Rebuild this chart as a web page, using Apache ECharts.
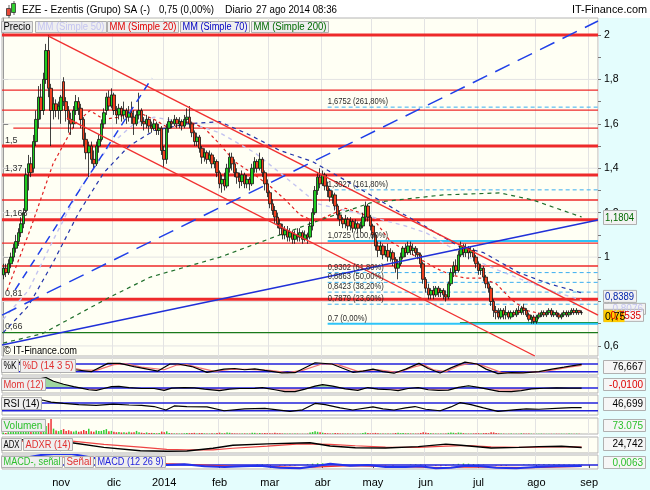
<!DOCTYPE html>
<html><head><meta charset="utf-8">
<script src="https://cdn.jsdelivr.net/npm/echarts@6/dist/echarts.min.js"></script>
<style>html,body{margin:0;padding:0;background:#fff}#c{width:650px;height:490px}</style>
</head><body><div id="c"></div>
<script>
// ---------------- DATA ----------------
const holidays = ['2013-12-25','2013-12-26','2014-01-01','2014-04-18','2014-04-21','2014-05-01'];
const firstDay = '2013-10-01', lastAxisDay = '2014-09-04';
const monthLabels = {1:'2014',2:'feb',3:'mar',4:'abr',5:'may',6:'jun',7:'jul',8:'ago',9:'sep',10:'oct',11:'nov',12:'dic'};
const priceTicks = [0.6,0.8,1.0,1.2,1.4,1.6,1.8,2.0];
const priceMinorTicks = [0.6,0.7,0.8,0.9,1.0,1.1,1.2,1.3,1.4,1.5,1.6,1.7,1.8,1.9,2.0];

// daily candles [open, close, low, high]
const ohlc = [
[0.92,0.95,0.90,0.97],[0.95,0.93,0.91,0.97],[0.93,0.97,0.92,0.99],[0.97,1.00,0.95,1.02],[1.00,1.04,0.98,1.06],
[1.04,1.07,1.02,1.10],[1.07,1.11,1.05,1.13],[1.11,1.15,1.09,1.18],[1.15,1.20,1.13,1.22],[1.21,1.37,1.20,1.40],
[1.38,1.42,1.30,1.46],[1.42,1.38,1.36,1.45],[1.40,1.52,1.38,1.55],[1.52,1.62,1.50,1.66],[1.62,1.72,1.58,1.77],
[1.72,1.66,1.62,1.78],[1.66,1.80,1.64,1.83],[1.80,1.93,1.78,1.96],[1.93,1.76,1.72,2.00],[1.76,1.66,1.50,1.78],
[1.66,1.69,1.62,1.72],[1.69,1.66,1.63,1.71],[1.66,1.68,1.62,1.70],[1.66,1.72,1.60,1.73],[1.79,1.70,1.68,1.81],
[1.70,1.66,1.61,1.72],[1.66,1.62,1.56,1.68],[1.62,1.60,1.55,1.65],[1.60,1.66,1.58,1.68],[1.66,1.70,1.64,1.73],
[1.70,1.67,1.64,1.72],[1.67,1.62,1.58,1.69],[1.62,1.53,1.50,1.63],[1.53,1.47,1.44,1.56],[1.47,1.50,1.36,1.52],
[1.50,1.44,1.42,1.52],[1.44,1.42,1.40,1.48],[1.42,1.50,1.41,1.52],[1.50,1.53,1.47,1.55],[1.53,1.60,1.52,1.62],
[1.60,1.65,1.58,1.67],[1.66,1.72,1.64,1.74],[1.72,1.68,1.66,1.75],[1.68,1.73,1.67,1.76],[1.73,1.66,1.64,1.74],
[1.66,1.64,1.60,1.68],[1.64,1.67,1.62,1.69],[1.67,1.64,1.61,1.68],[1.64,1.66,1.62,1.70],[1.66,1.63,1.60,1.67],
[1.63,1.65,1.61,1.68],[1.65,1.63,1.60,1.70],[1.63,1.60,1.55,1.66],[1.60,1.64,1.59,1.66],[1.64,1.66,1.62,1.74],
[1.66,1.61,1.59,1.67],[1.61,1.60,1.57,1.63],[1.60,1.62,1.58,1.64],[1.62,1.59,1.56,1.63],[1.59,1.58,1.56,1.61],
[1.58,1.60,1.57,1.62],[1.60,1.57,1.55,1.61],[1.57,1.58,1.55,1.60],[1.58,1.48,1.46,1.59],[1.48,1.44,1.40,1.50],
[1.44,1.58,1.42,1.60],[1.58,1.61,1.56,1.63],[1.61,1.60,1.58,1.62],[1.60,1.62,1.59,1.64],[1.62,1.60,1.58,1.63],
[1.60,1.61,1.58,1.63],[1.61,1.59,1.57,1.62],[1.59,1.62,1.58,1.64],[1.62,1.63,1.60,1.67],[1.63,1.60,1.58,1.68],
[1.60,1.56,1.54,1.61],[1.56,1.52,1.50,1.57],[1.52,1.54,1.50,1.56],[1.54,1.49,1.47,1.55],[1.49,1.45,1.42,1.50],
[1.45,1.47,1.43,1.49],[1.47,1.44,1.42,1.48],[1.44,1.46,1.43,1.48],[1.46,1.42,1.40,1.47],[1.42,1.43,1.40,1.45],
[1.43,1.38,1.36,1.44],[1.38,1.33,1.31,1.39],[1.33,1.35,1.29,1.37],[1.35,1.32,1.30,1.38],[1.32,1.40,1.31,1.42],
[1.40,1.45,1.38,1.47],[1.45,1.42,1.39,1.47],[1.42,1.38,1.36,1.44],[1.38,1.36,1.33,1.40],[1.36,1.34,1.31,1.38],
[1.34,1.37,1.32,1.39],[1.37,1.33,1.31,1.38],[1.33,1.35,1.31,1.37],[1.35,1.33,1.30,1.36],[1.33,1.40,1.32,1.42],
[1.40,1.43,1.38,1.45],[1.43,1.40,1.38,1.44],[1.40,1.44,1.39,1.47],[1.44,1.38,1.36,1.45],[1.38,1.33,1.30,1.39],
[1.33,1.29,1.27,1.35],[1.29,1.24,1.22,1.30],[1.24,1.21,1.19,1.26],[1.21,1.18,1.15,1.23],[1.18,1.15,1.13,1.20],
[1.15,1.13,1.10,1.17],[1.13,1.10,1.08,1.15],[1.10,1.12,1.08,1.14],[1.12,1.09,1.07,1.14],[1.09,1.11,1.07,1.13],
[1.11,1.08,1.06,1.12],[1.08,1.10,1.06,1.12],[1.10,1.09,1.07,1.13],[1.09,1.11,1.07,1.13],[1.11,1.08,1.06,1.12],
[1.08,1.10,1.07,1.12],[1.10,1.09,1.06,1.11],[1.09,1.14,1.08,1.16],[1.14,1.20,1.12,1.22],[1.20,1.30,1.19,1.32],
[1.30,1.36,1.28,1.38],[1.36,1.33,1.31,1.40],[1.33,1.37,1.32,1.39],[1.37,1.32,1.30,1.38],[1.32,1.30,1.27,1.34],
[1.30,1.27,1.25,1.31],[1.27,1.28,1.24,1.30],[1.28,1.23,1.21,1.29],[1.23,1.19,1.17,1.24],[1.19,1.17,1.14,1.21],
[1.17,1.15,1.13,1.18],[1.15,1.17,1.13,1.19],[1.17,1.14,1.12,1.18],[1.14,1.16,1.12,1.18],[1.16,1.13,1.11,1.17],
[1.13,1.15,1.12,1.17],[1.15,1.13,1.11,1.16],[1.13,1.14,1.11,1.16],[1.14,1.18,1.13,1.20],[1.18,1.23,1.16,1.25],
[1.23,1.18,1.16,1.24],[1.18,1.14,1.12,1.19],[1.14,1.10,1.08,1.15],[1.10,1.05,1.03,1.11],[1.05,1.03,1.00,1.07],
[1.03,1.05,1.01,1.07],[1.05,1.01,0.99,1.06],[1.01,1.03,1.00,1.05],[1.03,1.00,0.98,1.06],[1.00,1.02,0.98,1.04],
[1.02,0.99,0.96,1.03],[0.99,0.95,0.93,1.00],[0.95,0.97,0.90,0.99],[0.97,1.00,0.96,1.02],[1.00,1.04,0.99,1.05],
[1.04,1.02,1.00,1.06],[1.02,1.05,1.01,1.07],[1.05,1.03,1.01,1.07],[1.03,1.04,1.01,1.06],[1.04,1.02,1.00,1.05],
[1.02,1.01,0.99,1.04],[1.01,0.97,0.95,1.02],[0.97,0.90,0.88,0.98],[0.90,0.86,0.84,0.91],[0.86,0.83,0.81,0.88],
[0.83,0.85,0.81,0.86],[0.85,0.83,0.81,0.87],[0.83,0.86,0.82,0.87],[0.86,0.84,0.82,0.87],[0.84,0.85,0.82,0.86],
[0.85,0.83,0.81,0.86],[0.83,0.82,0.80,0.85],[0.82,0.88,0.81,0.89],[0.88,0.93,0.87,0.95],[0.93,0.96,0.91,0.98],
[0.96,0.94,0.92,0.99],[0.94,1.01,0.93,1.03],[1.01,1.05,1.00,1.07],[1.05,1.02,1.00,1.06],[1.02,1.04,1.00,1.06],
[1.04,1.02,0.99,1.05],[1.02,1.03,1.00,1.05],[1.03,1.00,0.98,1.04],[1.00,0.97,0.95,1.01],[0.97,0.94,0.92,0.98],
[0.94,0.95,0.92,0.97],[0.95,0.91,0.89,0.96],[0.91,0.88,0.86,0.92],[0.88,0.86,0.84,0.89],[0.86,0.80,0.78,0.87],
[0.80,0.76,0.73,0.81],[0.76,0.75,0.72,0.78],[0.75,0.73,0.72,0.77],[0.73,0.76,0.72,0.77],[0.76,0.74,0.72,0.77],
[0.74,0.75,0.72,0.78],[0.75,0.73,0.72,0.76],[0.73,0.75,0.72,0.76],[0.75,0.74,0.73,0.76],[0.74,0.76,0.73,0.77],
[0.76,0.75,0.74,0.78],[0.75,0.77,0.74,0.78],[0.77,0.76,0.74,0.79],[0.76,0.74,0.73,0.77],[0.74,0.72,0.71,0.75],
[0.72,0.73,0.70,0.74],[0.73,0.71,0.70,0.74],[0.71,0.73,0.70,0.74],[0.73,0.74,0.72,0.75],[0.74,0.75,0.73,0.76],
[0.75,0.74,0.73,0.76],[0.74,0.75,0.73,0.76],[0.75,0.76,0.74,0.77],[0.76,0.74,0.73,0.77],[0.74,0.75,0.73,0.76],
[0.75,0.74,0.73,0.76],[0.74,0.73,0.72,0.75],[0.73,0.74,0.72,0.75],[0.74,0.75,0.73,0.76],[0.75,0.74,0.73,0.76],
[0.74,0.75,0.73,0.76],[0.75,0.76,0.74,0.77],[0.76,0.75,0.74,0.77],[0.75,0.76,0.74,0.77],[0.76,0.75,0.74,0.76],
[0.75,0.75,0.74,0.76]
];

// volume, millions of shares
const volumeM = [
3.1,2.4,4.0,5.2,6.1,4.4,5.0,6.8,7.5,14.0, 9.5,6.2,12.0,13.5,15.2,9.8,14.1,18.0,24.5,34.0,
12.0,8.0,6.5,9.0,11.0,7.0,8.5,6.0,5.5,7.5, 5.0,6.0,9.0,7.0,12.0,6.0,5.0,8.0,6.5,7.0,
9.0,11.0,6.0,7.0,5.0,4.0,4.5,3.5,4.0,3.0, 5.0,3.5,4.0,7.0,4.0,3.0,2.5,3.5,2.0,2.5,
2.0,1.5,2.0,5.5,4.0,6.0,2.5,1.5,1.2,1.4, 1.0,1.2,1.5,2.5,1.8,2.2,2.6,1.3,2.0,2.2,
1.4,1.1,1.0,1.6,1.2,2.5,3.0,1.5,1.7,3.2, 2.8,1.6,1.4,1.2,1.0,1.1,1.3,0.9,1.0,3.0,
2.6,1.2,2.0,1.5,2.4,1.8,1.6,1.3,2.8,1.7, 1.5,1.2,1.0,0.9,1.1,0.8,0.9,1.0,0.8,0.7,
0.8,0.9,3.2,4.5,6.0,5.0,4.2,3.0,2.2,1.6, 1.4,1.2,2.0,1.8,1.4,1.1,0.9,1.0,0.8,0.9,
0.8,0.7,0.9,2.0,3.5,2.4,1.6,1.8,2.5,1.5, 1.1,1.2,1.0,1.3,0.9,1.2,2.2,2.6,1.8,2.0,
1.4,1.5,1.1,0.9,1.0,1.2,2.4,4.0,3.1,2.2, 1.6,1.2,1.1,0.9,1.0,0.8,1.2,2.6,3.2,2.8,
1.9,3.4,3.0,1.8,1.2,1.0,1.1,1.3,1.6,1.8, 1.2,1.9,2.1,1.6,4.2,3.6,2.0,1.4,1.0,0.9,
0.8,0.7,0.9,0.6,0.8,0.7,1.5,1.2,0.9,1.3, 0.8,0.7,0.6,0.7,0.9,0.6,0.5,0.7,0.6,0.8,
0.7,0.6,0.8,0.5,0.6,0.9,0.7,0.6,0.8,0.7,0.073075
];

// moving averages: [day index, value]
const ma20 = [[1.5,0.85],[10.6,1.12],[19.8,1.42],[28.5,1.60],[34.5,1.66],[40,1.62],[46,1.63],[52,1.66],[60,1.62],[66,1.58],[74,1.61],[80,1.58],[86,1.51],[92,1.43],[100,1.37],[106,1.32],[112,1.26],[118,1.19],[124,1.16],[130,1.19],[136,1.22],[142,1.20],[148,1.16],[154,1.07],[160,1.03],[166,0.99],[172,0.95],[178,0.92],[184,0.905],[190,0.905],[196,0.88],[202,0.81],[208,0.76],[214,0.745],[222,0.745],[230,0.7535]];
const ma50 = [[0,0.72],[10,0.85],[20,1.08],[30,1.30],[42,1.50],[52,1.60],[60,1.63],[75,1.60],[86,1.56],[100,1.47],[110,1.38],[125,1.24],[140,1.20],[150,1.17],[160,1.14],[168,1.11],[177,1.05],[185,1.00],[197,0.94],[206,0.90],[220,0.84],[230,0.8076]];
const ma70 = [[0,0.66],[10,0.78],[20,0.98],[30,1.20],[40,1.38],[50,1.50],[60,1.57],[73,1.60],[86,1.61],[98,1.55],[110,1.48],[123,1.43],[140,1.32],[158,1.20],[166,1.15],[181,1.05],[191,1.02],[205,0.93],[217,0.88],[230,0.8389]];
const ma200 = [[0,0.613],[15.5,0.655],[42.4,0.82],[58.5,0.91],[86.2,1.00],[126,1.167],[146,1.244],[175,1.28],[197.5,1.289],[210.6,1.257],[230,1.1804]];

// drawn levels
const redThick = [2.0,1.5,1.37,1.168,0.81];
const redThin = [1.752,1.662,1.581,1.257,1.063,0.96];
const redThinStart = [-0.5,-0.5,4,-0.5,-0.5,-0.5];
const levelLabels = [['1,5',1.5],['1,37',1.37],['1,168',1.168],['0,81',0.81],['0,66',0.66]];
const greenLevel = 0.66;
const supportLine = [[181.6,0.705],[236.5,0.705]];
const fibLevels = [0.7,0.7879,0.8423,0.8863,0.9302,1.0725,1.3027,1.6752];
const fibPct = ['0,00%','23,60%','38,20%','50,00%','61,80%','100,00%','161,80%','261,80%'];
const fibStart = 129;
const channelUpper = [[17.8,1.9955],[236.5,0.739]];
const channelLower = [[25.3,1.626],[211.4,0.5547]];
const trendBlue = [[-0.5,0.604],[236.5,1.167]];
const trendBlueDash = [[-0.5,0.739],[236.5,2.063]];
const fanBlueDash = [[4.7,0.852],[59.1,1.806]];

// indicators: [day index, value]
const stochK = [[0,92],[8,95],[12,80],[17,96],[19,70],[23,55],[28.5,35],[35,20],[41.6,85],[46.4,85],[52,60],[61.5,25],[66.3,80],[69.5,80],[75,60],[81,15],[87.8,40],[92,45],[96,35],[100,42],[104,30],[110.8,10],[116,12],[124,90],[130.7,80],[139,15],[143,25],[147,40],[151,20],[155.4,8],[160,40],[165.3,85],[169,45],[173.7,10],[178,50],[183.6,95],[188.4,80],[192,40],[196.7,5],[202,12],[206.7,10],[213,20],[218.2,40],[223,55],[226,65],[230,76.667]];
const stochD = [[0,90],[10,92],[15,85],[20,80],[26,55],[31,35],[37,30],[44,75],[49,82],[55,55],[64,35],[69,72],[73,75],[78,50],[84,22],[90,38],[98,38],[106,30],[113,12],[119,30],[127,82],[133,75],[141,22],[149,35],[157,15],[163,55],[167,75],[171,35],[176,20],[181,65],[186,88],[191,65],[198,15],[205,10],[215,22],[220,38],[225,55],[230,70]];
const momentum = [[0,0.25],[6,0.35],[12,0.65],[17,0.86],[20,0.55],[24,0.3],[28,0.1],[31,-0.02],[34,-0.15],[37,-0.2],[40,-0.05],[43,0.1],[46,0.12],[50,0.03],[55,-0.05],[60,-0.05],[64,-0.2],[67,-0.02],[72,0.03],[76,0],[80,-0.1],[86,-0.22],[90,-0.1],[94,-0.05],[100,-0.04],[103,0.03],[108,-0.15],[112,-0.3],[116,-0.3],[120,-0.1],[124,0.15],[127,0.27],[131,0.15],[136,-0.08],[141,-0.2],[145,0.03],[149,-0.1],[154,-0.15],[157,-0.22],[161,-0.05],[165,0.03],[169,-0.15],[173,-0.2],[177,-0.18],[181,0.05],[185,0.18],[189,0.05],[193,-0.12],[197,-0.28],[202,-0.3],[206,-0.22],[210,-0.08],[215,-0.03],[220,0],[225,-0.01],[230,-0.01]];
const rsi = [[0,80],[8,85],[15.5,86],[19,75],[23.9,68],[30,62],[37,58],[43.7,65],[50,60],[55,58],[60,52],[64.7,34],[68,55],[73,52],[81,50],[87.8,30],[96,40],[104,42],[114,27],[119,35],[124,68],[128,62],[134,45],[139,34],[147,50],[151,40],[155.4,34],[160,45],[163.7,52],[168,38],[173.7,30],[178,50],[181.6,72],[186,62],[191,45],[196.7,27],[203,35],[208,40],[213,38],[221.7,44],[226,46],[230,46.699]];
const adx = [[0,50],[15,55],[27.3,42],[40,25],[54.5,13],[65,11],[73,12],[83.4,22],[91.3,33],[105,38],[118,41],[122,42],[130,30],[140,24],[152,23],[165,28],[176,37],[182,33],[194,23],[205,25],[213,28],[222,29],[230,24.742]];
const adxr = [[0,45],[15,50],[27.3,48],[40,36],[54.5,26],[65,18],[73,16],[83.4,16],[91.3,22],[105,30],[118,38],[130,36],[140,31],[152,26],[165,25],[176,30],[185,32],[194,27],[205,25],[213,26],[222,28],[230,26]];
const macd = [[0,0.05],[15,0.15],[25,0.18],[40,0.08],[55,0.03],[65,0],[72,0.01],[80,-0.02],[88,-0.03],[95,-0.02],[102,-0.01],[110,-0.04],[118,-0.05],[124,-0.02],[130,0.02],[138,-0.01],[145,0],[152,-0.03],[160,-0.03],[166,-0.02],[172,-0.05],[178,-0.04],[184,-0.01],[190,-0.02],[196,-0.04],[204,-0.05],[212,-0.03],[220,-0.02],[230,-0.015]];
const macdSignal = [[0,0.03],[20,0.12],[35,0.12],[50,0.07],[65,0.02],[80,0],[92,-0.02],[105,-0.02],[118,-0.04],[128,-0.025],[138,-0.01],[150,-0.02],[162,-0.03],[175,-0.04],[186,-0.03],[198,-0.035],[210,-0.04],[222,-0.03],[230,-0.0213]];
const macdHist = [[71,0.01],[73,0.012],[75,0.01],[101,0.008],[103,0.01],[105,0.008],[121,0.012],[123,0.02],[125,0.025],[127,0.025],[129,0.02],[131,0.015],[133,0.01],[135,0.006],[146,0.008],[162,0.008],[164,0.01],[166,0.008],[179,0.01],[181,0.018],[183,0.022],[185,0.02],[187,0.015],[189,0.01],[191,0.006],[207,0.006],[209,0.008],[211,0.01],[213,0.011],[215,0.012],[217,0.012],[219,0.011],[221,0.01],[223,0.009],[225,0.008],[227,0.007],[229,0.0065],[230,0.0063],
[84,-0.012],[86,-0.015],[110,-0.012],[112,-0.016],[114,-0.016],[116,-0.012],[152,-0.01],[155,-0.012],[172,-0.015],[174,-0.018],[176,-0.015],[196,-0.012],[198,-0.016],[200,-0.014]];
const macdHistLast = 0.0063;

const lastPrice = 0.75, lastChange = '0,75 (0,00%)';
const lastVolume = 73075;

// ---------------- HELPERS ----------------
const FONT = '"Liberation Sans", Arial, sans-serif';
function tradingDays(a, b){
  const out=[]; const d=new Date(a+'T00:00:00Z'); const e=new Date(b+'T00:00:00Z');
  while(d<=e){const w=d.getUTCDay(); const s=d.toISOString().slice(0,10);
    if(w!==0 && w!==6 && !holidays.includes(s)) out.push(s); d.setUTCDate(d.getUTCDate()+1);}
  return out;
}
const dates = tradingDays(firstDay, lastAxisDay);
const N = dates.length;
const XMIN = -0.5, XMAX = N - 0.5;
const isMonthStart = i => i>0 && dates[i].slice(5,7)!==dates[i-1].slice(5,7);
const fmt = (v, d) => (d===undefined ? String(+v.toFixed(4)) : v.toFixed(d)).replace('.', ',');
const measureCtx = document.createElement('canvas').getContext('2d');
const textWidth = (t, size) => { measureCtx.font = size+'px '+FONT; return measureCtx.measureText(t).width; };

const chart = echarts.init(document.getElementById('c'), null, {renderer:'canvas'});

const gridBoxes = [[18,338],[358,17],[377,16],[395,20],[418,16],[437,16],[455,14]];
const grids = gridBoxes.map(g => ({left:2, width:596, top:g[0], height:g[1], show:true,
  backgroundColor:'#fffff4', borderColor:'#b4b4b4', borderWidth:1}));

const xAxes = [];
gridBoxes.forEach((g,k) => {
  const last = k === gridBoxes.length-1;
  xAxes.push({type:'category', gridIndex:k, data:dates, boundaryGap:true,
    axisLine:{show:false},
    axisTick:{show:last, interval:(i)=>isMonthStart(i), alignWithLabel:true, length:3, lineStyle:{color:'#555'}},
    axisLabel:{show:last, interval:(i)=>isMonthStart(i), formatter:(v)=>monthLabels[+v.slice(5,7)],
      color:'#000', fontSize:11, fontFamily:FONT, margin:8},
    splitLine:{show:true, interval:(i)=>isMonthStart(i), lineStyle:{color:'#e3e3e3', width:1}}});
  xAxes.push({type:'value', gridIndex:k, min:XMIN, max:XMAX, show:false});
});
const catX = k => 2*k, valX = k => 2*k+1;

const panelRanges = [[-6,127],[-0.42,0.9],[8,112],[0,36],[4.7,62.8],[-0.06,0.15]];
const yAxes = [
  {type:'value', gridIndex:0, position:'right', min:0.5547, max:2.0765, scale:true,
    axisLine:{show:true, lineStyle:{color:'#999'}},
    axisTick:{show:true, customValues:priceTicks, length:5, lineStyle:{color:'#555'}},
    axisLabel:{show:true, customValues:priceTicks, formatter:v=>fmt(v), color:'#000', fontSize:10.5, fontFamily:FONT, margin:6},
    splitLine:{show:false}},
  {type:'value', gridIndex:0, position:'right', min:0.5547, max:2.0765, scale:true,
    axisLine:{show:false},
    axisTick:{show:true, customValues:priceMinorTicks, length:3, lineStyle:{color:'#777'}},
    axisLabel:{show:false}, splitLine:{show:false}}
];
panelRanges.forEach((r,j) => yAxes.push({type:'value', gridIndex:j+1, min:r[0], max:r[1], show:false, scale:true}));
const panY = j => j+2; // yAxis index of panel j (0..5)

const series = [];
function line(data, xi, yi, color, width, type, z, extra){
  const s = Object.assign({type:'line', xAxisIndex:xi, yAxisIndex:yi, data, symbol:'none', silent:true,
    animation:false, lineStyle:{color, width, type:type||'solid'}, z:z||2}, extra||{});
  series.push(s); return series.length-1;
}

// horizontal grid lines
priceTicks.forEach(p => line([[XMIN,p],[XMAX,p]], 1, 0, '#e3e3e3', 1, 'solid', 1));
// red levels
redThin.forEach((p,i) => line([[redThinStart[i],p],[XMAX,p]], 1, 0, '#ee2a2a', 1.3, 'solid', 2));
redThick.forEach(p => line([[XMIN,p],[XMAX,p]], 1, 0, '#ee2a2a', 3, 'solid', 2));
line([[XMIN,greenLevel],[XMAX,greenLevel]], 1, 0, '#1a7a1a', 1.3, 'solid', 2);
line(supportLine, 1, 0, '#1a8a1a', 1.3, 'solid', 2);
// fibonacci levels
fibLevels.forEach((p,i) => {
  const solid = fibPct[i]==='0,00%' || fibPct[i]==='100,00%';
  line([[fibStart,p],[XMAX,p]], 1, 0, solid ? '#2ec4f8' : '#3aaef0', solid ? 2 : 1, solid ? 'solid' : [4,3], 2);
});
// moving averages
line(ma200, 1, 0, '#1e6e2a', 1.2, [4,4], 3);
line(ma70, 1, 0, '#2233aa', 1.2, [4,4], 3);
line(ma50, 1, 0, '#c4c4f0', 1.4, [4,4], 3);
line(ma20, 1, 0, '#e22020', 1.2, [3,3], 3);
// candles
series.push({type:'candlestick', xAxisIndex:0, yAxisIndex:0, data:ohlc, barWidth:3, z:4, silent:true, animation:false,
  itemStyle:{color:'#1ecb1e', color0:'#f0401e', borderColor:'#111', borderColor0:'#111', borderWidth:0.8}});
// trend lines
line(channelUpper, 1, 0, '#f03030', 1.4, 'solid', 5);
line(channelLower, 1, 0, '#f03030', 1.4, 'solid', 5);
line(trendBlue, 1, 0, '#2030d8', 1.5, 'solid', 5);
line(trendBlueDash, 1, 0, '#2040e8', 1.5, [16,9], 5);
line(fanBlueDash, 1, 0, '#2040e8', 1.5, [8,6], 5);

// ---- panel 0: stochastic
line([[XMIN,80],[XMAX,80]], valX(1), panY(0), '#2222dd', 1.5, 'solid', 2);
line([[XMIN,20],[XMAX,20]], valX(1), panY(0), '#2222dd', 1.5, 'solid', 2);
line(stochD, valX(1), panY(0), '#f07070', 1.2, 'solid', 3);
line(stochK, valX(1), panY(0), '#000', 1.2, 'solid', 4);
// ---- panel 1: momentum (filled green above zero, pink below)
line(momentum.map(d => [d[0], Math.max(d[1],0)]), valX(2), panY(1), '#8fcf8f', 0, 'solid', 2, {areaStyle:{color:'#8fcf8f', opacity:0.85}});
line(momentum.map(d => [d[0], Math.min(d[1],0)]), valX(2), panY(1), '#f29a9a', 0, 'solid', 2, {areaStyle:{color:'#f29a9a', opacity:0.85}});
line([[XMIN,0],[XMAX,0]], valX(2), panY(1), '#2222dd', 1.5, 'solid', 3);
line(momentum, valX(2), panY(1), '#000', 1.2, 'solid', 4);
// ---- panel 2: RSI
line([[XMIN,70],[XMAX,70]], valX(3), panY(2), '#2222dd', 1.5, 'solid', 2);
line([[XMIN,30],[XMAX,30]], valX(3), panY(2), '#2222dd', 1.5, 'solid', 2);
line(rsi, valX(3), panY(2), '#000', 1.2, 'solid', 4);
// ---- panel 3: volume
series.push({type:'bar', xAxisIndex:catX(4), yAxisIndex:panY(3), barWidth:1.5, silent:true, animation:false, z:3,
  data: volumeM.map((v,i) => ({value:v, itemStyle:{color: ohlc[i][1] >= ohlc[i][0] ? '#33cc33' : '#ee3333'}}))});
// ---- panel 4: ADX / ADXR
line(adxr, valX(5), panY(4), '#ee4444', 1.2, 'solid', 3);
line(adx, valX(5), panY(4), '#000', 1.4, 'solid', 4);
// ---- panel 5: MACD
series.push({type:'bar', xAxisIndex:valX(6), yAxisIndex:panY(5), barWidth:1.5, silent:true, animation:false, z:2,
  data: macdHist.map(d => ({value:d, itemStyle:{color: d[1] >= 0 ? '#33cc33' : '#ee6666'}}))});
line([[XMIN,0],[XMAX,0]], valX(6), panY(5), '#2222dd', 1.5, 'solid', 3);
line(macdSignal, valX(6), panY(5), '#ee3333', 1.2, 'solid', 4);
line(macd, valX(6), panY(5), '#2233ee', 2, 'solid', 5);

chart.setOption({animation:false, backgroundColor:'#ffffff', textStyle:{fontFamily:FONT},
  grid:grids, xAxis:xAxes, yAxis:yAxes, series});

// ---------------- GRAPHICS (text, boxes) ----------------
const G = [];
const px = (x,y) => chart.convertToPixel({xAxisIndex:1, yAxisIndex:0}, [x,y]);
// text, optionally squeezed horizontally to fit maxW (imitates the narrow original font)
function txt(x,y,text,color,size,align,maxW){
  const w = textWidth(text, size);
  const sx = maxW && w > maxW ? maxW / w : 1;
  G.push({type:'text', x, y, scaleX:sx, z:120, silent:true,
    style:{text, fill:color, font:size+'px '+FONT, verticalAlign:'middle', align:align||'left'}});
}
function box(x,y,w,h,text,color,bg,align,size){
  const s = size || 10;
  G.push({type:'rect', z:110, silent:true, shape:{x:x+0.5,y:y+0.5,width:w,height:h}, style:{fill:bg||'#efefef', stroke:'#b0b0b0', lineWidth:1}});
  if (align==='right') txt(x+w-2, y+h/2+1, text, color, s, 'right', w-4);
  else txt(x+2.5, y+h/2+1, text, color, s, 'left', w-4);
}
// cyan frame areas
G.push({type:'rect', z:0, silent:true, shape:{x:599,y:18,width:51,height:472}, style:{fill:'#e4fdfd'}});
G.push({type:'rect', z:0, silent:true, shape:{x:0,y:470,width:650,height:20}, style:{fill:'#e4fdfd'}});
// header icon
G.push({type:'line', z:110, silent:true, shape:{x1:9,y1:5,x2:9,y2:18}, style:{stroke:'#333', lineWidth:0.8}});
G.push({type:'rect', z:111, silent:true, shape:{x:6.5,y:8.5,width:4,height:7}, style:{fill:'#e84a3a', stroke:'#333', lineWidth:0.8}});
G.push({type:'line', z:110, silent:true, shape:{x1:14,y1:1,x2:14,y2:15}, style:{stroke:'#333', lineWidth:0.8}});
G.push({type:'rect', z:111, silent:true, shape:{x:11.5,y:3.5,width:4,height:9}, style:{fill:'#2fd02f', stroke:'#333', lineWidth:0.8}});
// header texts
txt(22, 10, 'EZE - Ezentis (Grupo) SA (-)', '#000', 11, 'left', 128);
txt(159, 10, lastChange, '#000', 11, 'left', 55);
txt(225, 10, 'Diario', '#000', 11, 'left', 27);
txt(256, 10, '27 ago 2014 08:36', '#000', 11, 'left', 81);
txt(647, 10, 'IT-Finance.com', '#000', 11, 'right', 75);
// legend boxes
box(1,21,31,11,'Precio','#000','#e6e6e6');
box(35,21,71,11,'MM (Simple 50)','#c4c4f0');
box(107,21,71,11,'MM (Simple 20)','#e00000');
box(180,21,69,11,'MM (Simple 70)','#0000c0');
box(251,21,77,11,'MM (Simple 200)','#006a00');
// level labels
levelLabels.forEach(l => { const p = px(0, l[1]); txt(5, p[1]-6, l[0], '#333', 9, 'left'); });
// fib labels
fibLevels.forEach((f,i) => { const p = px(fibStart, f); const t = fmt(f)+' ('+fibPct[i]+')';
  txt(p[0], p[1]-5.5, t, '#2a2a2a', 9.5, 'left', textWidth(t,9.5)*0.8); });
txt(4, 351, '\u00a9 IT-Finance.com', '#000', 10, 'left', 73);
// right price boxes
const yb = v => px(0, v)[1];
box(603, yb(1.1804)-7, 33, 14, '1,1804', '#006a00', '#f2f2f2', 'right');
box(603, yb(0.8076)+3, 42, 11, '0,8076', '#c4c4f0', '#f2f2f2', 'right');
box(603, yb(0.8389)-3, 33, 12, '0,8389', '#0022aa', '#f2f2f2', 'right');
box(603, yb(0.7535)-3, 40, 12, '0,7535', '#dd0000', '#f8f8f8', 'right');
G.push({type:'rect', z:115, silent:true, shape:{x:603.5,y:yb(lastPrice)-2.5,width:21,height:12}, style:{fill:'#ffcc00'}});
txt(605, yb(lastPrice)+4, fmt(lastPrice,2), '#000', 10.5, 'left');
// panel labels
box(1,359,17,13,'%K','#000'); box(20,359,55,13,'%D (14 3 5)','#e03030');
box(1,378,44,12,'Mom (12)','#e03030');
box(1,397,40,12,'RSI (14)','#000');
box(1,419,44,12,'Volumen','#2cc02c');
box(1,438,20,12,'ADX','#000'); box(23,438,49,12,'ADXR (14)','#e03030');
box(1,456,61,11,'MACD-, se\u00f1al','#2cc02c'); box(64,456,29,11,'Se\u00f1al','#e03030'); box(95,456,70,11,'MACD (12 26 9)','#2222dd');
// panel value boxes
const lastOf = a => a[a.length-1][1];
box(603,360,42,13, fmt(lastOf(stochK),3), '#000', '#f6f6f6', 'right');
box(603,378,42,12, fmt(lastOf(momentum),4), '#dd0000', '#f6f6f6', 'right');
box(603,397,42,13, fmt(lastOf(rsi),3), '#000', '#f6f6f6', 'right');
box(603,419,42,12, lastVolume.toLocaleString('de-DE'), '#2cc02c', '#f6f6f6', 'right');
box(603,437,42,13, fmt(lastOf(adx),3), '#000', '#f6f6f6', 'right');
box(603,456,42,12, fmt(macdHistLast,4), '#2cc02c', '#f6f6f6', 'right');

chart.setOption({graphic: G});
</script></body></html>
